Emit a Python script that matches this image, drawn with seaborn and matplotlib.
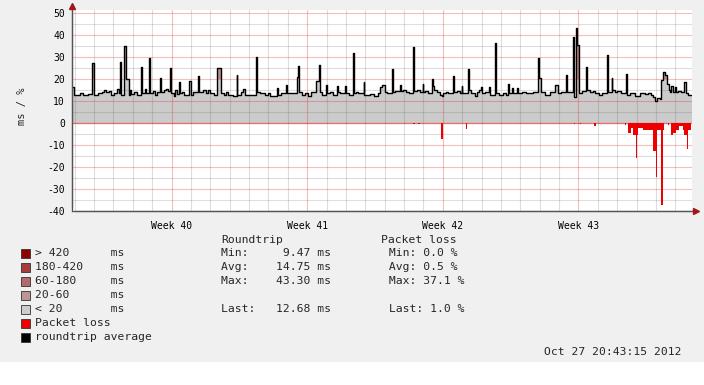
import numpy as np
import pandas as pd
import matplotlib
matplotlib.use("Agg")
import matplotlib.pyplot as plt
import matplotlib.dates as mdates
import matplotlib.transforms as mtrans
from matplotlib.patches import Rectangle
from matplotlib.ticker import MultipleLocator, FixedLocator
import seaborn as sns

# ---------------- data ----------------
start_time = "2012-09-25 20:43"
end_time = "2012-10-27 20:43"

# roundtrip average (ms), step series: hours since start_time -> value
rtt_hours = [0, 2.5, 9.9, 13.6, 19.8, 24.8, 27.3, 32.2, 37.2, 39.6, 42.1, 45.8, 48.3, 52.0, 55.7, 57.6,
             59.5, 61.3, 64.8, 66.9, 70.2, 71.8, 73.1, 76.8, 80.5, 84.9, 87.3, 90.4, 91.7, 95.8, 97.0,
             100.3, 102.8, 105.3, 109.6, 110.6, 114.0, 116.4, 118.9, 122.0, 123.0, 126.3, 127.6, 130.1,
             132.5, 133.4, 136.3, 138.7, 145.5, 147.0, 149.9, 155.5, 157.3, 162.3, 166.0, 168.5, 170.9,
             175.9, 179.2, 184.6, 188.3, 190.8, 193.2, 199.4, 203.8, 204.8, 209.3, 211.8, 214.3, 218.0,
             227.5, 229.5, 232.9, 239.1, 242.8, 245.3, 253.9, 255.2, 258.9, 265.7, 266.9, 278.1, 279.6,
             281.5, 284.9, 288.6, 292.3, 296.0, 301.9, 305.6, 307.2, 309.7, 314.6, 315.5, 319.6, 323.3,
             327.9, 329.1, 332.0, 337.8, 339.0, 343.1, 347.7, 349.3, 351.8, 354.3, 361.3, 362.1, 365.4,
             369.1, 374.1, 379.0, 381.5, 384.0, 387.7, 390.2, 396.0, 398.0, 400.1, 405.7, 407.5, 410.0,
             413.7, 417.4, 422.0, 423.6, 427.4, 431.1, 434.4, 435.2, 437.3, 441.0, 445.6, 447.5, 449.0,
             452.1, 455.8, 458.3, 459.6, 463.3, 465.7, 471.6, 473.2, 476.9, 480.6, 482.7, 483.5, 490.2,
             491.8, 494.2, 499.2, 501.7, 504.1, 506.6, 507.9, 511.6, 516.5, 517.8, 523.6, 525.2, 528.9,
             533.9, 537.6, 539.7, 541.3, 545.0, 546.3, 551.2, 552.5, 557.4, 562.4, 567.3, 571.0, 576.9,
             578.5, 581.0, 585.9, 592.1, 598.9, 602.0, 605.7, 611.5, 612.8, 620.2, 621.5, 623.9, 625.9,
             628.4, 631.7, 636.3, 637.5, 641.6, 645.4, 647.8, 652.8, 656.5, 662.3, 663.6, 668.3, 669.5,
             672.6, 675.1, 680.0, 685.9, 687.1, 691.2, 697.4, 703.6, 709.8, 713.5, 717.2, 719.7, 722.2,
             724.7, 727.8, 729.6, 732.1, 734.6, 737.1, 738.9, 740.8, 742.6, 744.5, 747.0, 748.2, 750.7,
             754.4, 758.7, 760.0, 763.1, 765.5, 768.0]
rtt_ms = [16.5, 13.0, 13.5, 13.0, 13.3, 27.5, 12.8, 13.5, 14.0, 15.3, 14.0, 14.5, 13.0, 13.5, 15.5, 13.5,
          28.0, 12.8, 35.2, 20.0, 13.0, 15.0, 13.3, 14.0, 13.0, 25.5, 13.5, 15.5, 13.8, 29.5, 13.5,
          14.5, 13.0, 14.0, 20.5, 14.0, 15.0, 15.5, 14.5, 25.0, 13.5, 12.5, 15.0, 13.3,
          18.5, 13.5, 14.0, 13.0, 19.0, 13.0, 14.0, 21.5, 14.0, 15.0, 13.5, 15.0, 13.5,
          13.0, 25.0, 13.5, 13.0, 14.0, 13.0, 12.5, 22.0, 13.0, 14.0, 15.5, 13.0, 12.8,
          30.0, 14.0, 13.5, 12.8, 13.5, 12.5, 16.0, 13.0, 13.5, 17.5, 13.8, 21.0, 26.0,
          14.0, 13.0, 13.5, 12.5, 14.0, 19.0, 26.5, 14.0, 13.0, 17.5, 13.5, 14.0, 13.0,
          17.0, 14.0, 13.5, 17.0, 13.8, 13.0, 32.0, 13.5, 14.0, 13.5, 18.5, 13.0, 12.8,
          13.3, 12.5, 13.8, 16.5, 17.5, 14.0, 13.5, 24.5, 14.0, 14.8, 17.5, 14.5, 15.0,
          14.0, 13.5, 34.8, 14.5, 15.0, 14.0, 18.0, 14.0, 14.5, 13.8, 20.0, 17.0, 15.0,
          14.0, 13.0, 12.5, 13.5, 14.0, 13.8, 21.5, 14.0, 14.5, 13.5, 17.0, 13.5, 24.5,
          15.0, 13.5, 12.5, 14.0, 15.0, 16.5, 13.5, 14.0, 16.5, 13.0, 36.4, 13.5, 13.0,
          13.5, 12.8, 18.0, 13.5, 16.0, 13.8, 16.0, 13.5, 14.0, 13.5, 13.8, 14.0, 29.8,
          20.5, 14.0, 13.0, 14.0, 17.5, 13.5, 14.0, 22.0, 14.0, 39.4, 12.0, 43.3, 35.6,
          13.5, 14.5, 25.5, 15.0, 14.0, 14.5, 13.5, 13.0, 13.5, 31.0, 14.0, 20.5, 15.0,
          14.0, 14.5, 13.5, 22.5, 13.0, 13.5, 12.5, 13.8, 13.3, 13.8, 13.0, 12.0, 10.0,
          11.5, 11.2, 19.5, 23.5, 22.0, 18.0, 15.0, 14.0, 17.0, 14.0, 16.5, 14.0, 14.5,
          14.0, 18.5, 13.5, 13.0, 12.7, 12.7]

# packet loss (%), step series
loss_hours = [0, 422.4, 424.9, 428.6, 431.1, 457.7, 459.6, 488.0, 489.9, 524.6, 525.8, 621.8, 623.1,
              628.7, 629.9, 647.2, 649.1, 685.6, 686.8, 688.7, 692.4, 695.5, 698.6, 699.9, 701.1,
              706.7, 707.3, 710.4, 711.6, 716.6, 717.8, 720.3, 724.0, 725.2, 729.6, 731.5, 733.3,
              737.7, 738.9, 741.4, 744.5, 748.2, 751.9, 756.3, 758.7, 761.2, 763.1, 766.8, 768.0]
loss_pct = [0, 0.5, 0, 0.5, 0, 7.0, 0, 2.7, 0, 0.4, 0, 0.4, 0,
            0.4, 0, 1.1, 0, 0.8, 0, 4.5, 2.0, 5.5, 16.0, 5.5, 2.0,
            0, 3.0, 0.5, 3.0, 8.0, 3.0, 12.5, 24.5, 3.0, 37.1, 3.0, 0,
            1.0, 0, 5.5, 4.5, 3.0, 1.5, 3.0, 5.5, 12.0, 3.0, 0, 0]

week_dates = ["2012-10-01", "2012-10-08", "2012-10-15", "2012-10-22"]
week_labels = ["Week 40", "Week 41", "Week 42", "Week 43"]
y_ticks = [50, 40, 30, 20, 10, 0, -10, -20, -30, -40]

legend_labels = ["> 420      ms", "180-420    ms", "60-180     ms", "20-60      ms", "< 20       ms",
                 "Packet loss", "roundtrip average"]
legend_colors = ["#8f0000", "#a83c3c", "#b56a6a", "#bf9494", "#cccccc", "#ee0000", "#000000"]
rtt_stats = ["Min:     9.47 ms", "Avg:    14.75 ms", "Max:    43.30 ms", "", "Last:   12.68 ms"]
loss_stats = [" Min: 0.0 %", " Avg: 0.5 %", " Max: 37.1 %", "", " Last: 1.0 %"]
timestamp = "Oct 27 20:43:15 2012"

# ---------------- style ----------------
sns.set_style("white")
plt.rcParams["font.family"] = ["DejaVu Sans Mono", "DejaVu Sans"]

W, H = 704, 385
fig = plt.figure(figsize=(W / 100, H / 100), dpi=100)
fig.patch.set_facecolor("white")
fig.patches.append(Rectangle((0, 23 / H), 1, 1 - 23 / H, transform=fig.transFigure,
                             facecolor="#f0f0f0", edgecolor="none", zorder=-10))

ax = fig.add_axes([72 / W, (H - 211) / H, 620 / W, 201 / H])
ax.set_facecolor("white")

t0 = pd.Timestamp(start_time)
rtt_t = t0 + pd.to_timedelta(np.array(rtt_hours), unit="h")
loss_t = t0 + pd.to_timedelta(np.array(loss_hours), unit="h")
rtt_v = np.array(rtt_ms)
loss_v = np.array(loss_pct)
df = pd.DataFrame({"time": rtt_t, "rtt": rtt_v})

rtn = mdates.date2num(rtt_t.to_pydatetime())
ltn = mdates.date2num(loss_t.to_pydatetime())

ax.fill_between(rtn, 0, np.minimum(rtt_v, 20), step="post", color="#cbcbcb", lw=0, zorder=1)
ax.fill_between(rtn, 20, np.maximum(rtt_v, 20), step="post", color="#bb8e8e", lw=0, zorder=1)
ax.fill_between(ltn, 0, -loss_v, step="post", color="#ee0000", lw=0, zorder=3)

sns.lineplot(data=df, x="time", y="rtt", ax=ax, color="black", lw=1.0,
             drawstyle="steps-post", estimator=None, zorder=4)

ax.set_xlim(pd.Timestamp(start_time), pd.Timestamp(end_time))
ax.set_ylim(-40, 51.5)

ax.yaxis.set_major_locator(FixedLocator(y_ticks))
ax.yaxis.set_minor_locator(MultipleLocator(5))
ax.set_yticklabels([str(v) for v in y_ticks])
ax.xaxis.set_major_locator(FixedLocator(mdates.date2num(pd.to_datetime(week_dates).to_pydatetime())))
ax.xaxis.set_minor_locator(mdates.DayLocator())
ax.set_xticklabels(week_labels)

ax.set_axisbelow(False)
ax.grid(which="major", color="#e01a1a", alpha=0.28, lw=0.8)
ax.grid(which="minor", color="#5a5a5a", alpha=0.2, lw=0.8)
ax.axhline(0, color="#e01a1a", alpha=0.5, lw=0.9, zorder=2.6)

for s in ["top", "right"]:
    ax.spines[s].set_visible(False)
for s in ["left", "bottom"]:
    ax.spines[s].set_color("#555555")
    ax.spines[s].set_linewidth(0.9)
    ax.spines[s].set_zorder(5)

ax.tick_params(axis="y", which="major", length=3, color="#555555", pad=2, labelsize=7, labelcolor="black")
ax.tick_params(axis="y", which="minor", length=0)
ax.tick_params(axis="x", which="major", length=0, pad=7, labelsize=7, labelcolor="black")
ax.tick_params(axis="x", which="minor", length=0)
ax.set_xlabel("")
ax.set_ylabel("")

# axis arrows
ax.plot([0], [1], marker="^", ms=4.5, color="#a01818", clip_on=False, zorder=6,
        transform=mtrans.offset_copy(ax.transAxes, fig=fig, x=0, y=4, units="dots"))
ax.plot([1], [0], marker=">", ms=4.5, color="#a01818", clip_on=False, zorder=6,
        transform=mtrans.offset_copy(ax.transAxes, fig=fig, x=4, y=0, units="dots"))
ax.plot([0, 0], [0, 1], color="#555555", lw=0.9, clip_on=False, zorder=5,
        transform=mtrans.offset_copy(ax.transAxes, fig=fig, x=0, y=3, units="dots"))
ax.plot([0, 1], [0, 0], color="#555555", lw=0.9, clip_on=False, zorder=5,
        transform=mtrans.offset_copy(ax.transAxes, fig=fig, x=3, y=0, units="dots"))

fs = 8.2


def fx(x):
    return x / W


def fy(y):
    return 1 - y / H


fig.text(fx(22), fy(106), "ms / %", rotation=90, ha="center", va="center", fontsize=7.5)

fig.text(fx(221), fy(240), "Roundtrip", ha="left", va="center", fontsize=fs)
fig.text(fx(381), fy(240), "Packet loss", ha="left", va="center", fontsize=fs)

row_y = [253, 267, 281, 295, 309, 323, 337]
for i, (lab, col) in enumerate(zip(legend_labels, legend_colors)):
    y = row_y[i]
    fig.patches.append(Rectangle((fx(21), fy(y + 4.5)), 9 / W, 9 / H, transform=fig.transFigure,
                                 facecolor=col, edgecolor="#333333", lw=0.6, zorder=2))
    fig.text(fx(35), fy(y), lab, ha="left", va="center", fontsize=fs)
for i, s in enumerate(rtt_stats):
    if s:
        fig.text(fx(221), fy(row_y[i]), s, ha="left", va="center", fontsize=fs)
for i, s in enumerate(loss_stats):
    if s:
        fig.text(fx(382), fy(row_y[i]), s, ha="left", va="center", fontsize=fs)

fig.text(fx(682), fy(352), timestamp, ha="right", va="center", fontsize=fs)

fig.savefig("out.png", dpi=100, facecolor=fig.get_facecolor())
